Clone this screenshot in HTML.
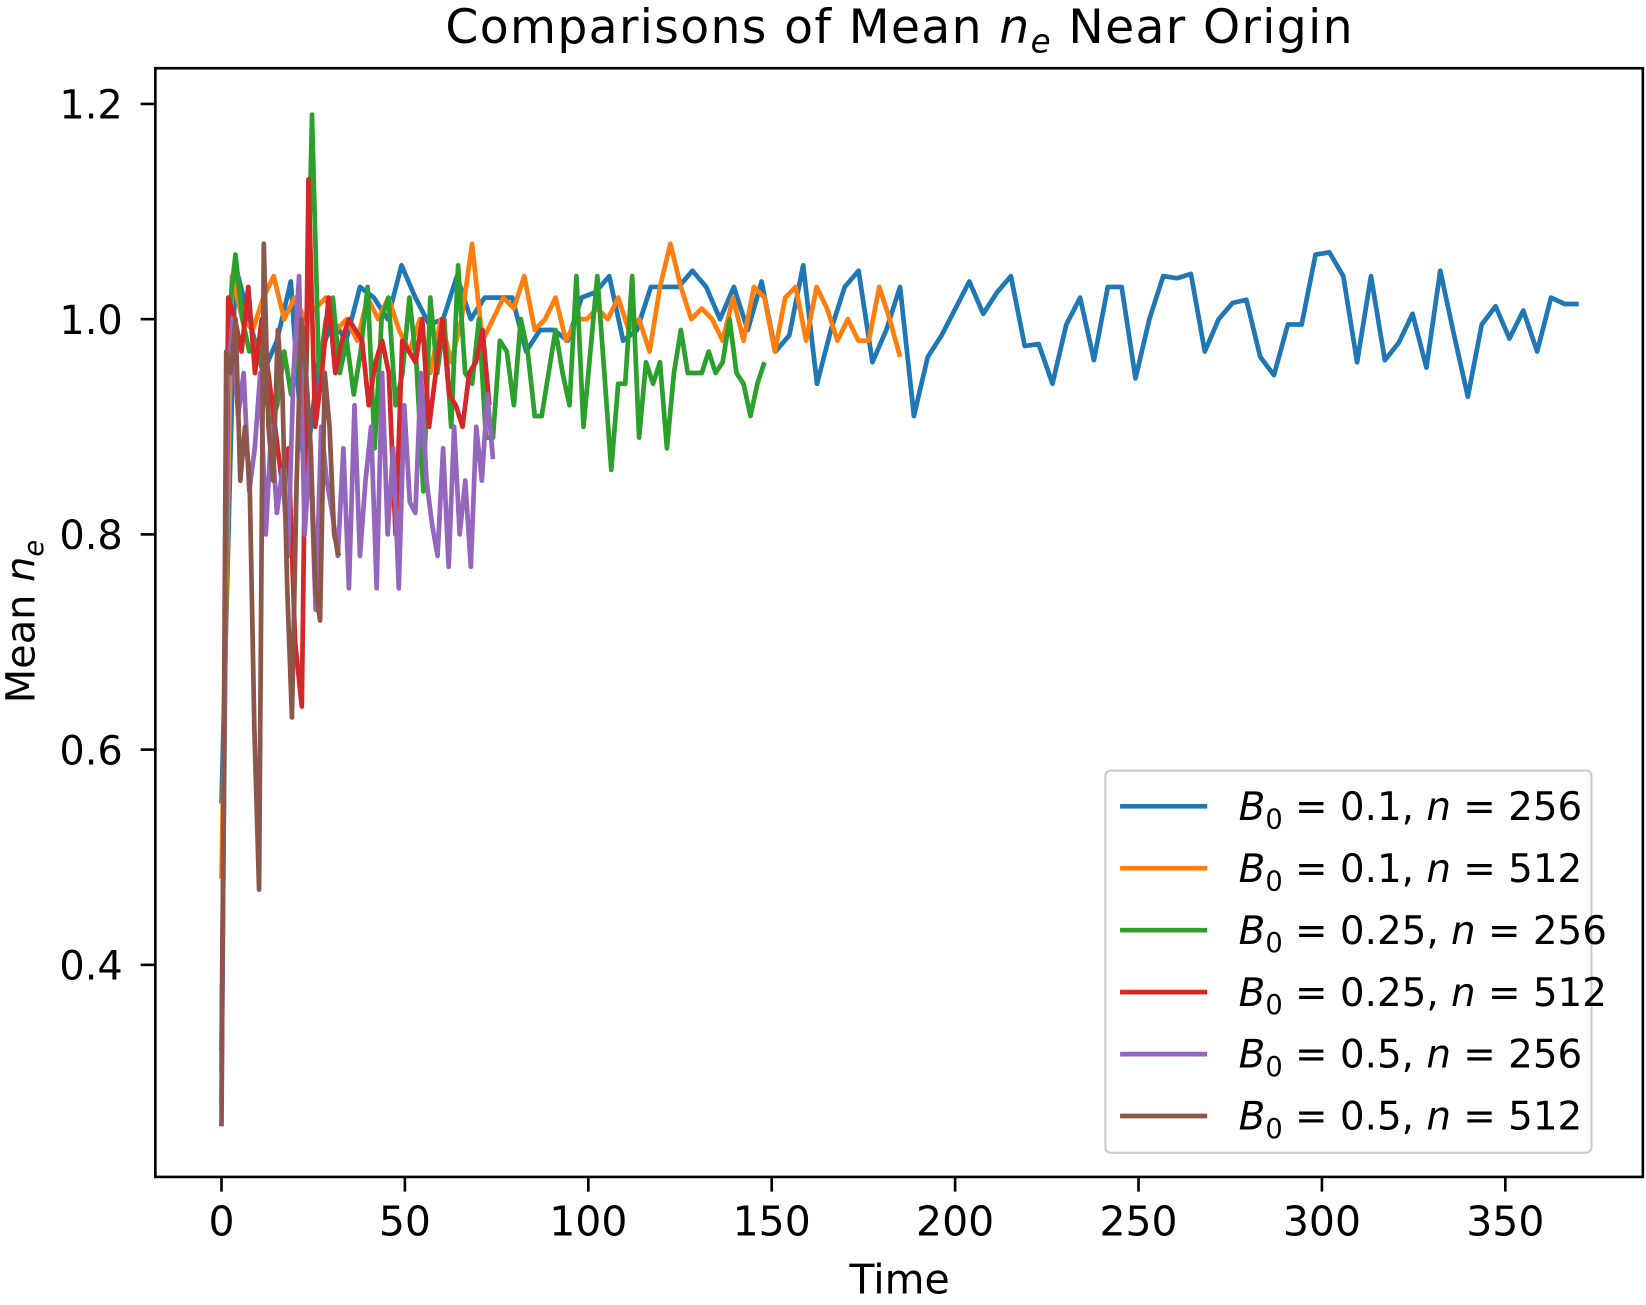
<!DOCTYPE html>
<html><head><meta charset="utf-8"><style>
body{margin:0;background:#fff}
svg{display:block;font-family:"DejaVu Sans","Liberation Sans",sans-serif}
</style></head><body>
<svg id="chart" width="1646" height="1305" viewBox="0 0 1568 1243" preserveAspectRatio="none">
<rect width="1568" height="1243" fill="#fff"/>
<text x="857" y="41" font-size="45" letter-spacing="1.3" text-anchor="middle">Comparisons of Mean <tspan font-style="italic">n</tspan><tspan font-style="italic" font-size="31" dy="9">e</tspan><tspan dy="-9"> Near Origin</tspan></text>
<g id="plot"></g>
<rect x="148" y="65" width="1417" height="1056" fill="none" stroke="#000" stroke-width="2.5"/>
<text x="857" y="1232" font-size="39" text-anchor="middle">Time</text>
<text transform="translate(33,592) rotate(-90)" font-size="38" text-anchor="middle">Mean <tspan font-style="italic">n</tspan><tspan font-style="italic" font-size="26" dy="8">e</tspan></text>
<g id="legend"></g>
</svg>
<script>
const xTicks=[0,50,100,150,200,250,300,350];
const yTicks=[0.4,0.6,0.8,1.0,1.2];
const yTickLabels=["0.4","0.6","0.8","1.0","1.2"];
const seriesNames=["B0=0.1, n=256","B0=0.1, n=512","B0=0.25, n=256","B0=0.25, n=512","B0=0.5, n=256","B0=0.5, n=512"];
const seriesEnd=[370,185,148,73,74,32];
const blue=[0.55,1.05,1.0,0.95,0.98,1.035,0.85,0.96,1.0,0.98,1.03,1.02,1.0,1.05,1.02,0.995,1.0,1.04,1.0,1.02,1.02,1.02,0.97,0.99,0.99,0.98,1.02,1.025,1.04,0.98,0.99,1.03,1.03,1.03,1.045,1.03,1.0,1.03,0.99,1.035,0.97,0.985,1.05,0.94,0.99,1.03,1.045,0.96,0.99,1.03,
0.91,0.965,0.985,1.01,1.035,1.005,1.025,1.04,0.975,0.977,0.94,0.995,1.02,0.962,1.03,1.03,0.945,1.0,1.04,1.038,1.042,0.97,1.0,1.015,1.018,0.965,0.948,0.995,0.995,1.06,1.062,1.04,0.96,1.04,0.962,0.978,1.005,0.955,1.045,0.985,0.928,0.995,1.012,0.982,1.008,0.97,1.02,1.014,1.014];
const orange=[0.48,1.04,1.0,0.99,1.02,1.04,1.0,1.02,1.0,1.01,1.02,0.99,1.0,0.98,1.02,1.0,1.02,0.99,0.97,1.0,0.95,1.0,0.96,1.0,1.07,0.98,1.0,1.02,1.01,1.04,0.99,1.0,1.02,0.98,1.0,1.0,1.01,1.0,1.02,0.99,1.0,0.97,1.03,1.07,1.03,1.0,1.01,1.0,0.98,1.02,0.98,1.03,1.02,0.97,1.02,1.03,0.98,1.03,1.01,0.98,1.0,0.98,0.98,1.03,1.0,0.965];
const green=[0.3,1.0,1.06,1.0,0.97,0.98,0.95,0.9,0.92,0.97,0.93,0.98,0.9,1.19,0.95,1.0,1.02,0.95,0.98,0.93,0.97,1.03,0.88,1.0,1.02,0.92,0.95,1.02,0.96,0.84,1.02,0.95,1.0,0.9,1.05,0.95,0.94,1.0,0.89,0.89,0.98,0.97,0.92,1.0,0.97,0.91,0.91,0.95,0.99,0.95,0.92,1.04,0.9,0.97,1.04,0.95,0.86,0.94,0.94,1.04,0.89,0.96,0.94,0.96,0.88,0.95,0.99,0.95,0.95,0.95,0.97,0.95,0.96,1.0,0.95,0.94,0.91,0.94,0.96];
const red=[0.32,1.02,1.0,0.97,1.03,0.95,1.0,0.95,0.9,0.85,0.88,0.7,0.64,1.13,0.9,0.95,1.02,0.95,0.98,1.0,0.99,0.98,0.92,0.96,0.98,0.95,0.8,0.98,0.97,0.96,1.0,0.9,0.95,1.0,0.93,0.92,0.9,0.95,0.96,0.99,0.92];
const purple=[0.27,0.93,1.0,0.91,0.95,0.84,0.88,0.95,0.8,0.9,0.82,0.86,0.78,0.95,1.04,0.8,0.88,0.73,0.9,0.85,0.82,0.78,0.88,0.75,0.92,0.78,0.85,0.9,0.75,0.95,0.8,0.88,0.75,0.92,0.83,0.82,0.95,0.85,0.81,0.78,0.88,0.77,0.9,0.8,0.85,0.77,0.9,0.85,0.93,0.87];
const brown=[0.25,0.97,0.95,1.0,0.85,0.9,0.85,0.62,0.47,1.07,0.9,0.85,0.99,0.93,0.75,0.63,0.85,1.0,0.95,0.88,0.75,0.72,0.95,0.9,0.8,0.78];
const allSeries=[blue,orange,green,red,purple,brown];
const colors=["#1f77b4","#ff7f0e","#2ca02c","#d62728","#9467bd","#8c564b"];
const legendB=["0.1","0.1","0.25","0.25","0.5","0.5"];
const legendN=["256","512","256","512","256","512"];

const NS="http://www.w3.org/2000/svg";
const X=t=>211+t*(1434-211)/350;
const Y=v=>304-(v-1.0)*1025;
const plot=document.getElementById('plot');
function mk(tag,attrs,parent){const e=document.createElementNS(NS,tag);for(const k in attrs)e.setAttribute(k,attrs[k]);parent.appendChild(e);return e;}
xTicks.forEach(t=>{
  const l=mk('line',{x1:X(t),x2:X(t),y1:1121,y2:1135,stroke:'#000','stroke-width':2.5},plot);
  
  
  const tx=mk('text',{x:X(t),y:1177,'font-size':39,'text-anchor':'middle'},plot);
  tx.textContent=String(t);
  
  
});
yTicks.forEach((v,i)=>{
  const l=mk('line',{x1:134,x2:148,y1:Y(v),y2:Y(v),stroke:'#000','stroke-width':2.5},plot);
  
  
  const tx=mk('text',{x:117,y:Y(v)+14,'font-size':38,'text-anchor':'end'},plot);
  tx.textContent=yTickLabels[i];
  
  
});
allSeries.forEach((s,i)=>{
  const dt=seriesEnd[i]/(s.length-1);
  const pts=s.map((v,j)=>X(j*dt).toFixed(1)+','+Y(v).toFixed(1)).join(' ');
  const p=mk('polyline',{points:pts,fill:'none',stroke:colors[i],'stroke-width':4.5,'stroke-linejoin':'round'},plot);
  
  
});
const lg=document.getElementById('legend');
const box=mk('rect',{x:1053,y:734,width:463,height:364,rx:5,fill:'#fff',stroke:'#ccc','stroke-width':2,'fill-opacity':0.9},lg);


seriesNames.forEach((n,i)=>{
  const y=768+i*59;
  const g=mk('g',{},lg);
  
  
  mk('line',{x1:1067,x2:1150,y1:y,y2:y,stroke:colors[i],'stroke-width':4.5},g);
  const t=mk('text',{x:1180,y:y+13,'font-size':37},g);
  t.innerHTML='<tspan font-style="italic">B</tspan><tspan font-size="26" dy="8">0</tspan><tspan dy="-8"> = '+legendB[i]+', </tspan><tspan font-style="italic">n</tspan><tspan> = '+legendN[i]+'</tspan>';
});
</script>
</body></html>
